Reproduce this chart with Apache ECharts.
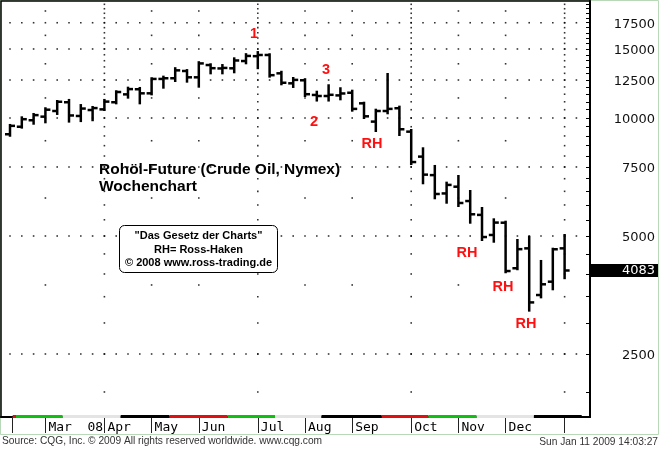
<!DOCTYPE html>
<html><head><meta charset="utf-8">
<script src="https://cdn.jsdelivr.net/npm/echarts@6/dist/echarts.min.js"></script>
<style>html,body{margin:0;padding:0;background:#fff}#c{width:660px;height:449px}</style>
</head><body><div id="c"></div>
<script>
// ---- data (weekly bars, Monday of week) ----
const weeks = ['2008-02-11','2008-02-18','2008-02-25','2008-03-03','2008-03-10','2008-03-17','2008-03-24','2008-03-31',
 '2008-04-07','2008-04-14','2008-04-21','2008-04-28','2008-05-05','2008-05-12','2008-05-19','2008-05-26',
 '2008-06-02','2008-06-09','2008-06-16','2008-06-23','2008-06-30','2008-07-07','2008-07-14','2008-07-21','2008-07-28',
 '2008-08-04','2008-08-11','2008-08-18','2008-08-25','2008-09-01','2008-09-08','2008-09-15','2008-09-22','2008-09-29',
 '2008-10-06','2008-10-13','2008-10-20','2008-10-27','2008-11-03','2008-11-10','2008-11-17','2008-11-24',
 '2008-12-01','2008-12-08','2008-12-15','2008-12-22','2008-12-29','2009-01-05'];
const open  = [9090,9500,9870,10080,10420,10970,10120,10480,10520,10970,11490,11840,11560,12580,12630,13180,
 12700,13650,13380,13390,13975,14380,14480,13000,12260,12480,11450,11380,11420,11600,10900,9790,10420,10590,
 9230,7970,7150,6420,6680,6140,5660,5030,5406,4137,4650,3535,3823,4650];
const high  = [9600,10040,10240,10590,11050,11120,10790,10670,11120,11700,11950,11930,12630,12750,13400,13250,
 13880,13710,13650,14200,14550,14730,14540,13120,12650,12560,11670,12120,11910,11740,10940,10500,12950,10690,
 9320,8370,7545,6840,7113,6513,5894,5515,5438,4884,4979,4318,4640,5030];
const low   = [9010,9450,9670,9750,10240,9790,9820,9870,10480,10900,11270,10900,11490,11950,12430,12380,
 12020,13000,13000,13080,13790,13400,12750,12190,12000,11380,11080,11080,11160,10440,10000,9265,10280,9050,
 7630,6815,6240,6080,5964,5406,4884,4835,4041,4113,3225,3487,3656,3902];
const close = [9550,9930,10170,10500,11000,10150,10570,10600,11010,11650,11850,11560,12580,12630,13230,12700,
 13780,13400,13420,14020,14400,14480,12860,12300,12510,11500,11380,11460,11550,10550,10100,10420,10550,9360,
 7720,7170,6400,6750,6070,5680,4970,5410,4070,4628,3385,3765,4625,4083];

const yTickLabels = [2500,5000,7500,10000,12500,15000,17500];
const gridMidLevels = [3750,6250,8750,11250,13750,16250,18750];
const monthLabels = {'03':'Mar  08','04':'Apr','05':'May','06':'Jun','07':'Jul','08':'Aug','09':'Sep','10':'Oct','11':'Nov','12':'Dec'};
const quarterMonths = ['01','04','07','10'];
// contract strip along the time axis: [fromWeek, toWeek, colour]
const stripes = [[0.23,0.51,'#e01010'],[0.51,4.47,'#10c010'],[4.47,9.38,'#e4e4e4'],[9.38,13.5,'#000000'],
 [13.5,18.45,'#e01010'],[18.45,22.46,'#10c010'],[22.46,26.4,'#e4e4e4'],[26.4,31.5,'#000000'],
 [31.5,35.45,'#e01010'],[35.45,39.55,'#10c010'],[39.55,44.4,'#e4e4e4'],[44.4,48.45,'#000000']];

// ---- derived ----
const L = v => Math.log10(v);
const yMinorTicks = []; for (let v = 2000; v <= 19500; v += 500) yMinorTicks.push(v);
const monthIdx = [];
weeks.forEach((w,i)=>{ if(i>0 && w.slice(5,7)!==weeks[i-1].slice(5,7)) monthIdx.push(i); });
const lastClose = close[close.length-1];
const bars = weeks.map((w,i)=>[i, L(open[i]), L(high[i]), L(low[i]), L(close[i])]);
const dots = [];
for (let k=0;k<=weeks.length;k++) yTickLabels.forEach(v=>dots.push([k,L(v)]));
monthIdx.forEach(i=>{
  const m = weeks[i].slice(5,7);
  (quarterMonths.includes(m) ? yMinorTicks : gridMidLevels).forEach(v=>dots.push([i,L(v)]));
});
const labelIdx = monthIdx.filter(i=>monthLabels[weeks[i].slice(5,7)]);

const Y_MIN = 3.2372, Y_MAX = 4.2985, X_MIN = -0.763, X_MAX = 49.152;

const chart = echarts.init(document.getElementById('c'), null, {renderer:'canvas'});
const lab = (t,x,y,extra)=>({type:'text', x, y, z:20, style:Object.assign({text:t, fill:'#ff1010',
  font:'bold 14.5px "Liberation Sans", Arial, sans-serif', align:'center', verticalAlign:'middle'}, extra||{})});

chart.setOption({
  animation:false,
  backgroundColor:'#fff',
  grid:{left:1, right:70, top:1, bottom:32, show:true, borderColor:'#000', borderWidth:1.5, outerBoundsMode:'none'},
  xAxis:{type:'value', min:X_MIN, max:X_MAX,
    axisLine:{show:true, onZero:false, lineStyle:{color:'#000', width:2}},
    axisTick:{show:true, customValues:[0.23].concat(monthIdx), length:16, inside:false, lineStyle:{color:'#222', width:1}},
    axisLabel:{show:true, customValues:labelIdx, formatter:v=>monthLabels[weeks[Math.round(v)].slice(5,7)]||'',
      align:'left', padding:[0,0,0,3], margin:4, color:'#000', fontFamily:'"DejaVu Sans Mono", monospace', fontSize:13},
    splitLine:{show:false}},
  yAxis:{type:'value', position:'right', min:Y_MIN, max:Y_MAX,
    axisLine:{show:true, onZero:false, lineStyle:{color:'#000', width:2}},
    axisTick:{show:true, customValues:yMinorTicks.map(L), inside:true, length:4, lineStyle:{color:'#000', width:1}},
    axisLabel:{show:true, customValues:yTickLabels.concat([lastClose]).map(L), margin:68, align:'right',
      formatter:v=>{const n=Math.round(Math.pow(10,v)); return n===lastClose?'{hl|'+n+'}':'{n|'+n+'}';},
      rich:{
        n:{fontFamily:'"DejaVu Sans", sans-serif', fontSize:13, color:'#111', padding:[3,3,0,0]},
        hl:{fontFamily:'"DejaVu Sans", sans-serif', fontSize:13, color:'#fff', backgroundColor:'#000',
            width:65, align:'right', height:13, lineHeight:13, padding:[0,3,0,0]}
      }},
    splitLine:{show:false}},
  series:[
    {type:'scatter', data:dots, symbol:'rect', symbolSize:1.6, itemStyle:{color:'#000'}, silent:true, z:1},
    {type:'custom', data:stripes.map(s=>[s[0],s[1]]), silent:true, z:5, clip:false,
      renderItem:(params, api)=>{
        const p0 = api.coord([api.value(0), Y_MIN]);
        const p1 = api.coord([api.value(1), Y_MIN]);
        return {type:'rect', shape:{x:p0[0], y:p0[1]-2, width:p1[0]-p0[0], height:3},
          style:{fill:stripes[params.dataIndex][2]}};
      }},
    {type:'custom', data:bars, z:10, encode:{x:0, y:[1,2,3,4]},
      renderItem:(params, api)=>{
        const k = api.value(0);
        const o = api.coord([k, api.value(1)]);
        const h = api.coord([k, api.value(2)]);
        const l = api.coord([k, api.value(3)]);
        const c = api.coord([k, api.value(4)]);
        const x = o[0];
        const st = {stroke:'#000', lineWidth:2.5};
        return {type:'group', children:[
          {type:'line', shape:{x1:x, y1:h[1]-1, x2:x, y2:l[1]+1}, style:st},
          {type:'line', shape:{x1:x-5, y1:o[1], x2:x, y2:o[1]}, style:st},
          {type:'line', shape:{x1:x, y1:c[1], x2:x+5, y2:c[1]}, style:st}
        ]};
      }}
  ],
  graphic:[
    {type:'rect', z:-1, shape:{x:0.5, y:0.5, width:658, height:434}, style:{fill:null, stroke:'#b8d8b8', lineWidth:1}},
    lab('1',254,34), lab('2',314,122), lab('3',326,70),
    lab('RH',372,144), lab('RH',467,253), lab('RH',503,287), lab('RH',526,324),
    {type:'text', x:99, y:170, z:20, style:{text:'Rohöl-Future (Crude Oil, Nymex)', fill:'#000',
      font:'bold 15.5px "Liberation Sans", Arial, sans-serif', align:'left', verticalAlign:'middle'}},
    {type:'text', x:99, y:187, z:20, style:{text:'Wochenchart', fill:'#000',
      font:'bold 15.5px "Liberation Sans", Arial, sans-serif', align:'left', verticalAlign:'middle'}},
    {type:'rect', z:15, shape:{x:119.5, y:225.5, width:158, height:47, r:5}, style:{fill:'#fff', stroke:'#000', lineWidth:1}},
    {type:'text', x:198.5, y:236, z:20, style:{text:'"Das Gesetz der Charts"', fill:'#000',
      font:'bold 11px "Liberation Sans", Arial, sans-serif', align:'center', verticalAlign:'middle'}},
    {type:'text', x:198.5, y:249.5, z:20, style:{text:'RH= Ross-Haken', fill:'#000',
      font:'bold 11px "Liberation Sans", Arial, sans-serif', align:'center', verticalAlign:'middle'}},
    {type:'text', x:198.5, y:262.7, z:20, style:{text:'© 2008 www.ross-trading.de', fill:'#000',
      font:'bold 11px "Liberation Sans", Arial, sans-serif', align:'center', verticalAlign:'middle'}},
    {type:'text', x:2, y:441, z:20, style:{text:'Source: CQG, Inc. © 2009 All rights reserved worldwide. www.cqg.com', fill:'#333',
      font:'10.2px "Liberation Sans", Arial, sans-serif', align:'left', verticalAlign:'middle'}},
    {type:'text', x:658, y:442, z:20, style:{text:'Sun Jan 11 2009 14:03:27', fill:'#333',
      font:'10.2px "Liberation Sans", Arial, sans-serif', align:'right', verticalAlign:'middle'}}
  ]
});
</script></body></html>
